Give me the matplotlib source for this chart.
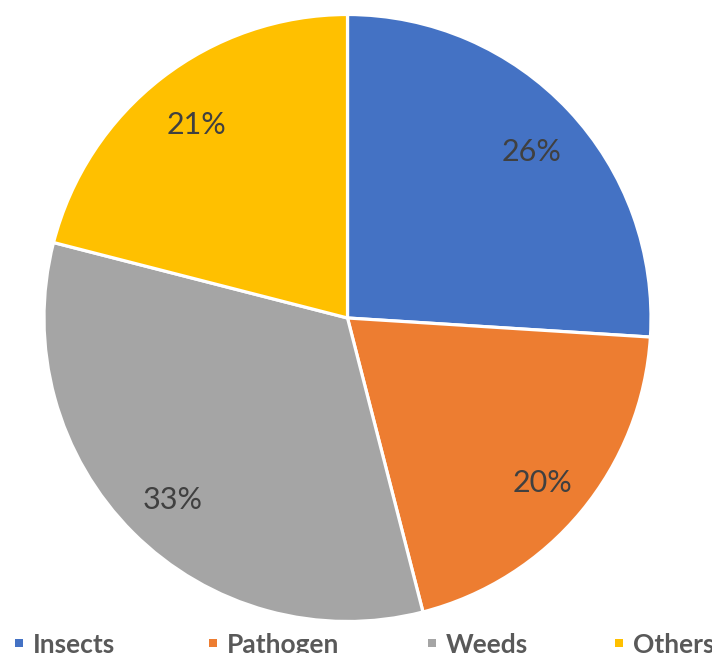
import matplotlib
matplotlib.use("Agg")
import matplotlib.pyplot as plt
from matplotlib.patches import Rectangle

# Share of crop losses by cause
categories = ["Insects", "Pathogen", "Weeds", "Others"]
shares = [26, 20, 33, 21]
colors = ["#4472C4", "#ED7D31", "#A5A5A5", "#FFC000"]

plt.rcParams['font.family'] = ['Lato', 'DejaVu Sans']

W, H = 712, 653
fig = plt.figure(figsize=(W / 100, H / 100), dpi=100)

# pie centred at (347.5, 318) px with radius 303.5 px
cx, cy, r = 347.5, 318, 303.5
ax = fig.add_axes([(cx - r) / W, (H - cy - r) / H, 2 * r / W, 2 * r / H])
wedges, texts, autotexts = ax.pie(
    shares, colors=colors, startangle=90, counterclock=False,
    autopct='%d%%', pctdistance=0.825,
    wedgeprops=dict(edgecolor='white', linewidth=2.3),
    textprops=dict(fontsize=22, color='#404040'))
# nudge the percentage labels slightly down
for t in autotexts:
    x, y = t.get_position()
    t.set_position((x + 2 / r, y - 5 / r))
ax.set_xlim(-1, 1)
ax.set_ylim(-1, 1)
ax.set_aspect('auto')

# legend row along the bottom edge
text_x = [33, 227, 446, 633]
for x, name, c in zip(text_x, categories, colors):
    fig.patches.append(Rectangle(((x - 18) / W, (H - 647) / H), 8 / W, 8 / H,
                                 transform=fig.transFigure, facecolor=c,
                                 edgecolor='none'))
    fig.text(x / W, (H - 653) / H, name, fontsize=19, fontweight='bold',
             color='#595959', ha='left', va='baseline')

fig.savefig("out.png", dpi=100)
